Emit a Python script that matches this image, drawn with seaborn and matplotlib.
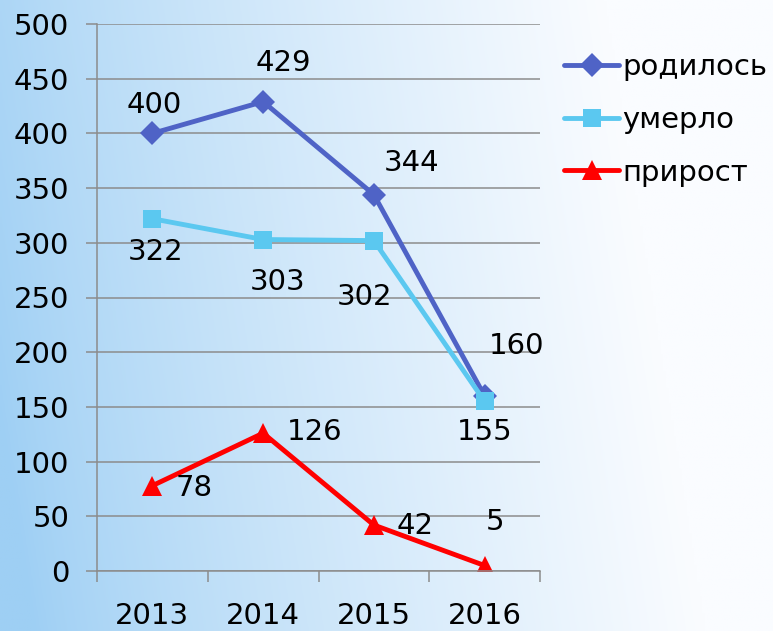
import matplotlib
matplotlib.use('Agg')
import matplotlib.pyplot as plt
import seaborn as sns
import numpy as np
import pandas as pd

# данные
years = ['2013', '2014', '2015', '2016']
born = [400, 429, 344, 160]
died = [322, 303, 302, 155]
growth = [78, 126, 42, 5]

sns.set_style('white')
plt.rcParams['font.family'] = ['DejaVu Sans']
plt.rcParams['text.color'] = 'black'
plt.rcParams['xtick.labelcolor'] = 'black'
plt.rcParams['ytick.labelcolor'] = 'black'
FS = 21

fig = plt.figure(figsize=(7.73, 6.31), dpi=100)

# фон-градиент
bg = fig.add_axes([0, 0, 1, 1], zorder=-10)
gx, gy = np.meshgrid(np.linspace(0, 1, 300), np.linspace(0, 1, 300))
t = np.clip(gx * 1.15 + (1 - gy) * 0.15 - 0.05, 0, 1) ** 0.8
left = np.array([158, 207, 244]) / 255
right = np.array([250, 252, 255]) / 255
img = left[None, None, :] * (1 - t[..., None]) + right[None, None, :] * t[..., None]
bg.imshow(img, aspect='auto', extent=[0, 1, 0, 1], origin='upper')
bg.axis('off')

ax = fig.add_axes([97 / 773, 60 / 631, 443 / 773, 547 / 631])
ax.patch.set_alpha(0)

x = np.arange(len(years))
df = pd.DataFrame({'x': x, 'born': born, 'died': died, 'growth': growth})

series = [
    ('born', 'родилось', '#4f63c6', 'D', 12),
    ('died', 'умерло', '#5bc8f0', 's', 13),
    ('growth', 'прирост', '#ff0000', '^', 14),
]
for col, label, color, marker, ms in series:
    sns.lineplot(data=df, x='x', y=col, ax=ax, color=color, marker=marker,
                 markersize=ms, markeredgewidth=0, linewidth=3.5, label=label)

# подписи значений (смещения в пикселях)
offsets = {
    'born': [(2, 28), (20, 39), (38, 32), (32, 50)],
    'died': [(3, -33), (14, -42), (-9, -56), (0, -31)],
    'growth': [(42, -2), (52, 1), (41, -1), (10, 44)],
}
for col, vals in [('born', born), ('died', died), ('growth', growth)]:
    for i, v in enumerate(vals):
        ax.annotate(str(v), xy=(i, v), xytext=offsets[col][i], textcoords='offset pixels',
                    ha='center', va='center', fontsize=FS, color='black')

ax.set_xlim(-0.5, 3.5)
ax.set_ylim(0, 500)
ax.set_yticks(np.arange(0, 501, 50))
ax.set_xticks(x)
ax.set_xticklabels(years)
ax.set_xticks(np.arange(-0.5, 3.6, 1), minor=True)
ax.set_xlabel('')
ax.set_ylabel('')
ax.grid(axis='y', color='#8c8c8c', linewidth=1.1)
ax.set_axisbelow(True)

for s in ['top', 'right']:
    ax.spines[s].set_visible(False)
for s in ['left', 'bottom']:
    ax.spines[s].set_color('#8c8c8c')
    ax.spines[s].set_linewidth(1.1)

ax.tick_params(axis='y', length=8, width=1.1, color='#8c8c8c', pad=12, labelsize=FS, left=True)
ax.tick_params(axis='x', which='major', length=0, pad=22, labelsize=FS)
ax.tick_params(axis='x', which='minor', length=8, width=1.1, color='#8c8c8c', bottom=True)

handles, labels = ax.get_legend_handles_labels()
ax.get_legend().remove()
fig.legend(handles, labels, loc='upper left', bbox_to_anchor=(564 / 773, 1 - 53 / 631),
           frameon=False, fontsize=FS, handlelength=1.9, handletextpad=0.1,
           labelspacing=0.85, borderpad=0, borderaxespad=0)

fig.savefig('out.png', dpi=100)
